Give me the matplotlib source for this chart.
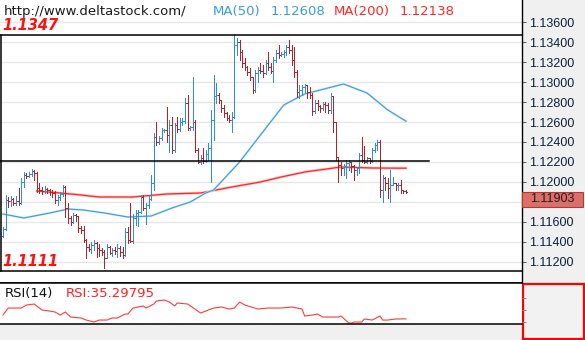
import matplotlib
matplotlib.use("Agg")
import matplotlib.pyplot as plt
import matplotlib.transforms as mtransforms
from matplotlib.collections import LineCollection
from matplotlib.patches import Rectangle

# ---- EURUSD hourly bars (open, high, low, close) ----
opens = [
    1.1146, 1.1153, 1.1182, 1.1181, 1.1183, 1.1179, 1.1181, 1.1179, 1.1200, 1.1207,
    1.1206, 1.1208, 1.1211, 1.1209, 1.1194, 1.1192, 1.1191, 1.1193, 1.1192, 1.1190,
    1.1189, 1.1182, 1.1185, 1.1188, 1.1195, 1.1174, 1.1164, 1.1160, 1.1167, 1.1166,
    1.1154, 1.1152, 1.1142, 1.1135, 1.1133, 1.1137, 1.1139, 1.1134, 1.1132, 1.1130,
    1.1124, 1.1135, 1.1129, 1.1132, 1.1131, 1.1134, 1.1130, 1.1127, 1.1150, 1.1142,
    1.1141, 1.1164, 1.1169, 1.1170, 1.1185, 1.1174, 1.1177, 1.1183, 1.1199, 1.1245,
    1.1240, 1.1244, 1.1252, 1.1252, 1.1247, 1.1257, 1.1232, 1.1257, 1.1253, 1.1260,
    1.1261, 1.1279, 1.1254, 1.1255, 1.1260, 1.1232, 1.1220, 1.1224, 1.1221, 1.1228,
    1.1234, 1.1262, 1.1286, 1.1287, 1.1282, 1.1274, 1.1269, 1.1264, 1.1262, 1.1265,
    1.1337, 1.1340, 1.1330, 1.1319, 1.1315, 1.1310, 1.1305, 1.1292, 1.1309, 1.1312,
    1.1311, 1.1309, 1.1319, 1.1315, 1.1311, 1.1322, 1.1329, 1.1327, 1.1328, 1.1330,
    1.1335, 1.1332, 1.1322, 1.1310, 1.1290, 1.1292, 1.1295, 1.1297, 1.1290, 1.1287,
    1.1271, 1.1279, 1.1276, 1.1274, 1.1278, 1.1277, 1.1272, 1.1286, 1.1260, 1.1225,
    1.1217, 1.1214, 1.1216, 1.1219, 1.1220, 1.1216, 1.1212, 1.1214, 1.1227, 1.1222,
    1.1220, 1.1224, 1.1221, 1.1232, 1.1237, 1.1240, 1.1192, 1.1204, 1.1199, 1.1194,
    1.1197, 1.1199, 1.1197, 1.1197, 1.1192, 1.1191,
]
highs = [
    1.1155, 1.1187, 1.1185, 1.1186, 1.1184, 1.1186, 1.1194, 1.1204, 1.1210, 1.1209,
    1.1210, 1.1213, 1.1212, 1.1210, 1.1199, 1.1195, 1.1196, 1.1194, 1.1193, 1.1192,
    1.1191, 1.1187, 1.1190, 1.1197, 1.1196, 1.1179, 1.1166, 1.1169, 1.1168, 1.1166,
    1.1156, 1.1156, 1.1143, 1.1138, 1.1140, 1.1142, 1.1140, 1.1138, 1.1134, 1.1132,
    1.1138, 1.1136, 1.1134, 1.1135, 1.1138, 1.1136, 1.1135, 1.1154, 1.1155, 1.1179,
    1.1168, 1.1172, 1.1172, 1.1187, 1.1187, 1.1179, 1.1187, 1.1207, 1.1249, 1.1260,
    1.1246, 1.1254, 1.1253, 1.1275, 1.1262, 1.1265, 1.1259, 1.1265, 1.1264, 1.1264,
    1.1284, 1.1287, 1.1256, 1.1305, 1.1262, 1.1234, 1.1227, 1.1234, 1.1232, 1.1239,
    1.1272, 1.1307, 1.1299, 1.1289, 1.1282, 1.1277, 1.1270, 1.1267, 1.1270, 1.1347,
    1.1344, 1.1342, 1.1332, 1.1324, 1.1316, 1.1314, 1.1305, 1.1312, 1.1315, 1.1319,
    1.1317, 1.1322, 1.1330, 1.1319, 1.1325, 1.1332, 1.1337, 1.1330, 1.1332, 1.1337,
    1.1342, 1.1337, 1.1335, 1.1312, 1.1297, 1.1297, 1.1298, 1.1297, 1.1295, 1.1289,
    1.1282, 1.1282, 1.1277, 1.1280, 1.1280, 1.1279, 1.1289, 1.1286, 1.1260, 1.1225,
    1.1220, 1.1218, 1.1222, 1.1222, 1.1220, 1.1217, 1.1215, 1.1229, 1.1245, 1.1236,
    1.1225, 1.1224, 1.1234, 1.1239, 1.1242, 1.1242, 1.1207, 1.1205, 1.1204, 1.1212,
    1.1205, 1.1199, 1.1199, 1.1202, 1.1192, 1.1192,
]
lows = [
    1.1145, 1.1152, 1.1175, 1.1176, 1.1177, 1.1177, 1.1177, 1.1178, 1.1195, 1.1204,
    1.1205, 1.1206, 1.1202, 1.1190, 1.1189, 1.1188, 1.1189, 1.1189, 1.1187, 1.1185,
    1.1179, 1.1177, 1.1182, 1.1186, 1.1165, 1.1159, 1.1157, 1.1159, 1.1161, 1.1150,
    1.1149, 1.1140, 1.1124, 1.1131, 1.1129, 1.1132, 1.1125, 1.1126, 1.1127, 1.1114,
    1.1124, 1.1128, 1.1126, 1.1128, 1.1125, 1.1126, 1.1124, 1.1126, 1.1139, 1.1140,
    1.1139, 1.1157, 1.1156, 1.1169, 1.1172, 1.1158, 1.1174, 1.1182, 1.1192, 1.1237,
    1.1238, 1.1242, 1.1250, 1.1240, 1.1230, 1.1229, 1.1230, 1.1250, 1.1251, 1.1257,
    1.1259, 1.1252, 1.1252, 1.1252, 1.1230, 1.1219, 1.1218, 1.1219, 1.1220, 1.1222,
    1.1200, 1.1242, 1.1279, 1.1279, 1.1270, 1.1265, 1.1262, 1.1260, 1.1250, 1.1264,
    1.1327, 1.1322, 1.1315, 1.1312, 1.1307, 1.1302, 1.1289, 1.1290, 1.1300, 1.1309,
    1.1305, 1.1308, 1.1312, 1.1309, 1.1300, 1.1320, 1.1324, 1.1326, 1.1325, 1.1327,
    1.1329, 1.1317, 1.1305, 1.1285, 1.1284, 1.1287, 1.1290, 1.1284, 1.1284, 1.1267,
    1.1269, 1.1272, 1.1270, 1.1272, 1.1270, 1.1269, 1.1269, 1.1250, 1.1222, 1.1200,
    1.1207, 1.1207, 1.1204, 1.1212, 1.1210, 1.1202, 1.1207, 1.1209, 1.1220, 1.1219,
    1.1219, 1.1219, 1.1220, 1.1230, 1.1232, 1.1185, 1.1180, 1.1192, 1.1184, 1.1180,
    1.1197, 1.1192, 1.1192, 1.1189, 1.1189, 1.1189,
]
closes = [
    1.1153, 1.1182, 1.1181, 1.1183, 1.1179, 1.1181, 1.1179, 1.1200, 1.1207, 1.1206,
    1.1208, 1.1211, 1.1209, 1.1194, 1.1192, 1.1191, 1.1193, 1.1192, 1.1190, 1.1189,
    1.1182, 1.1185, 1.1188, 1.1195, 1.1174, 1.1164, 1.1160, 1.1167, 1.1166, 1.1154,
    1.1152, 1.1142, 1.1135, 1.1133, 1.1137, 1.1139, 1.1134, 1.1132, 1.1130, 1.1124,
    1.1135, 1.1129, 1.1132, 1.1131, 1.1134, 1.1130, 1.1127, 1.1150, 1.1142, 1.1141,
    1.1164, 1.1169, 1.1170, 1.1185, 1.1174, 1.1177, 1.1183, 1.1199, 1.1245, 1.1240,
    1.1244, 1.1252, 1.1252, 1.1247, 1.1257, 1.1232, 1.1257, 1.1253, 1.1260, 1.1261,
    1.1279, 1.1254, 1.1255, 1.1260, 1.1232, 1.1220, 1.1224, 1.1221, 1.1228, 1.1234,
    1.1262, 1.1286, 1.1287, 1.1282, 1.1274, 1.1269, 1.1264, 1.1262, 1.1265, 1.1337,
    1.1340, 1.1330, 1.1319, 1.1315, 1.1310, 1.1305, 1.1292, 1.1309, 1.1312, 1.1311,
    1.1309, 1.1319, 1.1315, 1.1311, 1.1322, 1.1329, 1.1327, 1.1328, 1.1330, 1.1335,
    1.1332, 1.1322, 1.1310, 1.1290, 1.1292, 1.1295, 1.1297, 1.1290, 1.1287, 1.1271,
    1.1279, 1.1276, 1.1274, 1.1278, 1.1277, 1.1272, 1.1286, 1.1260, 1.1225, 1.1217,
    1.1214, 1.1216, 1.1219, 1.1220, 1.1216, 1.1212, 1.1214, 1.1227, 1.1222, 1.1220,
    1.1224, 1.1221, 1.1232, 1.1237, 1.1240, 1.1192, 1.1204, 1.1199, 1.1194, 1.1197,
    1.1199, 1.1197, 1.1197, 1.1192, 1.1191, 1.11903,
]

# ---- moving averages (bar index, value) ----
ma50_idx = [0, 8, 18, 25, 31, 39, 48, 57, 65, 72, 78, 81, 91, 102, 108, 116, 122, 131, 140, 148, 155]
ma50_val = [1.1168, 1.1164, 1.1169, 1.1173, 1.1172, 1.1169, 1.1165, 1.1166, 1.1174, 1.1180,
            1.1189, 1.1192, 1.1220, 1.1257, 1.1277, 1.1288, 1.1292, 1.1298, 1.1289, 1.1272, 1.12608]
ma200_idx = [13, 22, 30, 37, 50, 63, 76, 88, 99, 107, 116, 130, 142, 155]
ma200_val = [1.1191, 1.1189, 1.1187, 1.1185, 1.1185, 1.1188, 1.1189, 1.1195, 1.1200, 1.1205,
             1.1210, 1.1215, 1.1214, 1.12138]

# ---- RSI(14) ----
rsi_idx = [0, 2, 7, 9, 12, 13, 15, 18, 20, 22, 24, 26, 30, 32, 35, 37, 40, 42, 44, 47, 48,
           50, 54, 55, 58, 59, 62, 64, 66, 67, 71, 76, 81, 84, 87, 89, 91, 93, 98, 102, 107,
           111, 115, 116, 119, 121, 123, 125, 129, 130, 133, 134, 135, 138, 139, 142, 145,
           146, 148, 151, 155]
rsi_val = [41.7, 53.3, 53.3, 58.3, 60.0, 56.7, 50.0, 48.3, 46.7, 41.7, 46.7, 38.3, 36.7, 33.3,
           30.0, 33.3, 33.3, 36.7, 36.7, 43.3, 43.3, 53.3, 56.7, 53.3, 60.0, 65.0, 66.7, 63.3,
           56.7, 61.7, 60.0, 45.0, 53.3, 55.0, 51.7, 53.3, 63.3, 58.3, 51.7, 53.3, 53.3, 55.0,
           51.7, 40.0, 41.7, 43.3, 38.3, 38.3, 38.3, 40.0, 28.3, 28.3, 30.0, 30.0, 35.0, 33.3,
           40.0, 33.3, 33.3, 35.0, 35.29795]

# ---- horizontal levels ----
range_high = 1.1347
range_low = 1.1111
mid_level = 1.1221
mid_level_end = 164

price_ticks = [1.112, 1.114, 1.116, 1.118, 1.120, 1.122, 1.124, 1.126, 1.128,
               1.130, 1.132, 1.134, 1.136]

W, H = 585, 340
UP = "#2b8fd4"
DOWN = "#b22226"
MA50_C = "#3b9bdb"
MA200_C = "#ff2626"
TICK_C = "#0d1f3c"


def fx(px):
    return px / W


def fy(py):
    return 1 - py / H


fig = plt.figure(figsize=(W / 100, H / 100), dpi=100, facecolor="#f0f0f0")
plt.rcParams["font.family"] = ["DejaVu Sans"]

ax = fig.add_axes([0, fy(283), fx(522), 283 / H])
rsi_ax = fig.add_axes([0, fy(324), fx(522), 41 / H])

for a in (ax, rsi_ax):
    a.set_facecolor("white")
    a.set_xlim(-1.15, 199.6)
    a.tick_params(axis="x", bottom=False, labelbottom=False)

ax.set_ylim(1.1099, 1.1382)
rsi_ax.set_ylim(26.7, 95)

# spines
for s in ("left", "top"):
    ax.spines[s].set_visible(False)
ax.spines["right"].set_color("black")
ax.spines["bottom"].set_color("black")
ax.spines["right"].set_linewidth(1.0)
ax.spines["bottom"].set_linewidth(1.1)
for s in ("left", "right"):
    rsi_ax.spines[s].set_visible(False)
rsi_ax.spines["top"].set_linewidth(1.1)
rsi_ax.spines["bottom"].set_linewidth(1.1)

# current price
last = closes[-1]

# price scale on the right (the label under the price marker is left out)
ax.yaxis.tick_right()
ax.set_yticks(price_ticks)
ax.set_yticklabels(["" if abs(t - last) < 0.0018 and t < last else f"{t:.5f}" for t in price_ticks],
                   family="Liberation Sans", fontsize=9, color=TICK_C)
ax.tick_params(axis="y", length=3, width=0.7, color="#555555", pad=2)
ax.grid(axis="y", color="#e7e7e7", linewidth=1.0)
ax.set_axisbelow(True)

rsi_ax.yaxis.tick_right()
rsi_ax.set_yticks([30, 50, 70])
rsi_ax.set_yticklabels([])
rsi_ax.tick_params(axis="y", length=3, width=0.7, color="#888888")

# OHLC bars
n = len(closes)
seg_up, seg_dn = [], []
for i in range(n):
    o, h, l, c = opens[i], highs[i], lows[i], closes[i]
    segs = [((i, l), (i, h)), ((i - 0.45, o), (i, o)), ((i, c), (i + 0.45, c))]
    (seg_up if c >= o else seg_dn).extend(segs)
ax.add_collection(LineCollection(seg_up, colors=UP, linewidths=0.72, antialiaseds=False, zorder=3))
ax.add_collection(LineCollection(seg_dn, colors=DOWN, linewidths=0.72, antialiaseds=False, zorder=3))

# moving averages
ax.plot(ma200_idx, ma200_val, color="#ffc4c4", lw=1.9, zorder=2)
ax.plot(ma200_idx, ma200_val, color=MA200_C, lw=0.9, zorder=2)
ax.plot(ma50_idx, ma50_val, color="#d2e7f7", lw=1.6, zorder=2)
ax.plot(ma50_idx, ma50_val, color=MA50_C, lw=0.8, zorder=2)

# range box and level line
ax.axhline(range_high, color="black", lw=1.1, zorder=4)
ax.axhline(range_low, color="black", lw=1.1, zorder=4)
ax.plot([-1.15 + 0.25, -1.15 + 0.25], [range_low, range_high], color="black", lw=1.1, zorder=4)
ax.plot([-1.15, mid_level_end], [mid_level, mid_level], color="black", lw=1.1, zorder=4)

# level labels
blend = mtransforms.blended_transform_factory(ax.transAxes, ax.transData)
ax.text(0.005, range_high + 0.00045, f"{range_high:.4f}", transform=blend,
        color="#ff1010", fontsize=10.5, fontweight="bold", fontstyle="italic", va="baseline", ha="left")
ax.text(0.005, range_low + 0.00055, f"{range_low:.4f}", transform=blend,
        color="#ff1010", fontsize=10.5, fontweight="bold", fontstyle="italic", va="baseline", ha="left")

# current price marker
ax.add_patch(Rectangle((1.0, last - 0.0015), 61 / 522, 0.0015, transform=blend, clip_on=False,
                       facecolor="#da7069", edgecolor="#b23a35", lw=0.8, zorder=6))
ax.text(1.0 + 30.5 / 522, last - 0.00075, f"{last:.5f}", transform=blend, ha="center", va="center",
        family="Liberation Sans", fontsize=9, color="#2a1a1a", zorder=7, clip_on=False)

# RSI line
rsi_ax.plot(rsi_idx, rsi_val, color="#ff3a3a", lw=0.8)

# right-hand box of the indicator window
fig.add_artist(Rectangle((fx(523), fy(339)), (584 - 523) / W, (339 - 284) / H, transform=fig.transFigure,
                         facecolor="#f2f2f2", edgecolor="#ff0000", lw=1.6, zorder=-1))

# header
fig.text(fx(4), fy(15), "http://www.deltastock.com/", fontsize=9.5, color="#1a1a1a", va="baseline")
fig.text(fx(213), fy(15), "MA(50)", fontsize=9.5, color=MA50_C, va="baseline")
fig.text(fx(271), fy(15), f"{ma50_val[-1]:.5f}", fontsize=9.5, color=MA50_C, va="baseline")
fig.text(fx(334), fy(15), "MA(200)", fontsize=9.5, color=MA200_C, va="baseline")
fig.text(fx(400), fy(15), f"{ma200_val[-1]:.5f}", fontsize=9.5, color=MA200_C, va="baseline")

fig.text(fx(5), fy(297), "RSI(14)", fontsize=9.5, color="#111111", va="baseline")
fig.text(fx(66), fy(297), f"RSI:{rsi_val[-1]:.5f}", fontsize=9.5, color="#ff2020", va="baseline")

fig.savefig("out.png", dpi=100, facecolor=fig.get_facecolor())
